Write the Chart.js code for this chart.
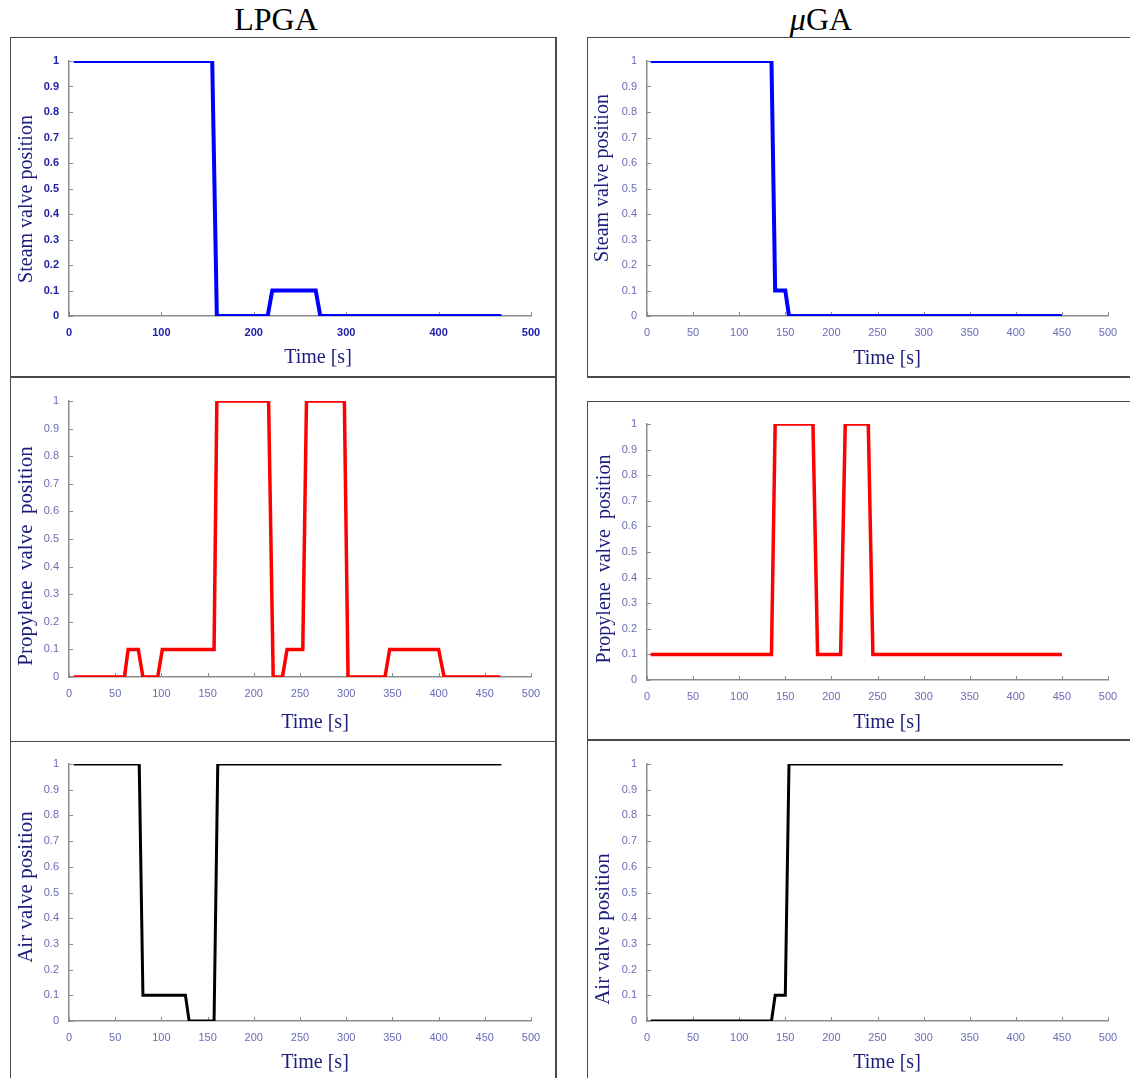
<!DOCTYPE html>
<html>
<head>
<meta charset="utf-8">
<title>Valve positions: LPGA vs uGA</title>
<script src="https://cdn.jsdelivr.net/npm/chart.js@4.4.1/dist/chart.umd.min.js"></script>
<style>
  html, body { margin: 0; padding: 0; background: #fff; }
  body { width: 1130px; height: 1078px; position: relative; overflow: hidden; }
  .line { position: absolute; background: #4a4a4a; }
  .head { position: absolute; top: 3px; width: 300px; text-align: center;
          font-family: "Liberation Serif", "DejaVu Serif", serif; font-size: 32px; line-height: 32px; color: #000; }
  canvas { position: absolute; }
</style>
</head>
<body>

<div class="head" style="left:126px">LPGA</div>
<div class="head" style="left:671px"><i>μ</i>GA</div>

<!-- panel frames -->
<div class="line" style="left:10px;top:37px;width:1px;height:1041px"></div>
<div class="line" style="left:555px;top:37px;width:2px;height:1041px"></div>
<div class="line" style="left:10px;top:37px;width:546px;height:1px"></div>
<div class="line" style="left:10px;top:376px;width:546px;height:2px"></div>
<div class="line" style="left:10px;top:741px;width:546px;height:1px"></div>

<div class="line" style="left:587px;top:37px;width:1px;height:340px"></div>
<div class="line" style="left:587px;top:401px;width:1px;height:677px"></div>
<div class="line" style="left:587px;top:37px;width:543px;height:1px"></div>
<div class="line" style="left:587px;top:376px;width:543px;height:2px"></div>
<div class="line" style="left:587px;top:401px;width:543px;height:1px"></div>
<div class="line" style="left:587px;top:739px;width:543px;height:2px"></div>

<canvas id="c0"></canvas>
<canvas id="c1"></canvas>
<canvas id="c2"></canvas>
<canvas id="c3"></canvas>
<canvas id="c4"></canvas>
<canvas id="c5"></canvas>

<script>
// --- data (time in s, valve position 0..1) ---
const lpgaSteamTime = [5, 155, 160, 215, 220, 267, 272, 468];
const lpgaSteamValue = [1, 1, 0, 0, 0.1, 0.1, 0, 0];

const lpgaPropyleneTime = [5, 60, 64, 75, 80, 96, 101, 157, 160, 216, 221, 231, 236, 253, 257, 298, 302, 342, 347, 400, 406, 467];
const lpgaPropyleneValue = [0, 0, 0.1, 0.1, 0, 0, 0.1, 0.1, 1, 1, 0, 0, 0.1, 0.1, 1, 1, 0, 0, 0.1, 0.1, 0, 0];

const lpgaAirTime = [5, 76, 80, 126, 130, 157, 161, 468];
const lpgaAirValue = [1, 1, 0.1, 0.1, 0, 0, 1, 1];

const ugaSteamTime = [4, 135, 139, 150, 154, 450];
const ugaSteamValue = [1, 1, 0.1, 0.1, 0, 0];

const ugaPropyleneTime = [4, 135, 139, 180, 185, 210, 215, 240, 245, 450];
const ugaPropyleneValue = [0.1, 0.1, 1, 1, 0.1, 0.1, 1, 1, 0.1, 0.1];

const ugaAirTime = [4, 135, 139, 150, 154, 451];
const ugaAirValue = [0, 0, 0.1, 0.1, 1, 1];

// tick labels
const xTicksCoarse = [0, 100, 200, 300, 400, 500];
const xTicksFine = [0, 50, 100, 150, 200, 250, 300, 350, 400, 450, 500];
const yTicks = [0, 0.1, 0.2, 0.3, 0.4, 0.5, 0.6, 0.7, 0.8, 0.9, 1];

const xTitle = 'Time [s]';

// layout of each panel: chart area [left, top, right, bottom] in page pixels
const panels = [
  { area: [69, 61, 531, 316], t: lpgaSteamTime, v: lpgaSteamValue, color: '#0000ff', lw: 4,
    xTicks: xTicksCoarse, yTitle: 'Steam valve position', yFont: 20, yPos: [27, 199], xPos: [318, 358], bold: true },
  { area: [647, 61, 1108, 316], t: ugaSteamTime, v: ugaSteamValue, color: '#0000ff', lw: 4,
    xTicks: xTicksFine, yTitle: 'Steam valve position', yFont: 20, yPos: [603, 178], xPos: [887, 359] },
  { area: [69, 401, 531, 677], t: lpgaPropyleneTime, v: lpgaPropyleneValue, color: '#ff0000', lw: 3.5,
    xTicks: xTicksFine, yTitle: 'Propylene  valve  position', yFont: 21, yPos: [26, 556], xPos: [315, 723] },
  { area: [647, 424, 1108, 680], t: ugaPropyleneTime, v: ugaPropyleneValue, color: '#ff0000', lw: 3.5,
    xTicks: xTicksFine, yTitle: 'Propylene  valve  position', yFont: 20, yPos: [605, 559], xPos: [887, 723] },
  { area: [69, 764, 531, 1021], t: lpgaAirTime, v: lpgaAirValue, color: '#000000', lw: 3,
    xTicks: xTicksFine, yTitle: 'Air valve position', yFont: 21, yPos: [26, 887], xPos: [315, 1063] },
  { area: [647, 764, 1108, 1021], t: ugaAirTime, v: ugaAirValue, color: '#000000', lw: 3,
    xTicks: xTicksFine, yTitle: 'Air valve position', yFont: 21, yPos: [603, 929], xPos: [887, 1063] },
];

const PAD_L = 65, PAD_T = 30, PAD_R = 35, PAD_B = 65;
const titleColor = '#1c1c7c';

// inside tick marks + axis titles
const decor = {
  id: 'decor',
  beforeDatasetsDraw(chart) {
    const { ctx, chartArea, scales } = chart;
    ctx.save();
    ctx.strokeStyle = '#8c8c8c';
    ctx.lineWidth = 1;
    scales.x.ticks.forEach(t => {
      const px = Math.round(scales.x.getPixelForValue(t.value)) + 0.5;
      ctx.beginPath();
      ctx.moveTo(px, chartArea.bottom);
      ctx.lineTo(px, chartArea.bottom - 4);
      ctx.stroke();
    });
    scales.y.ticks.forEach(t => {
      const py = Math.round(scales.y.getPixelForValue(t.value)) + 0.5;
      ctx.beginPath();
      ctx.moveTo(chartArea.left, py);
      ctx.lineTo(chartArea.left + 4, py);
      ctx.stroke();
    });
    ctx.restore();
  },
  afterDraw(chart, args, opts) {
    const { ctx } = chart;
    const p = opts.panel;
    const ox = p.area[0] - PAD_L, oy = p.area[1] - PAD_T;
    ctx.save();
    ctx.fillStyle = titleColor;
    ctx.textAlign = 'center';
    ctx.textBaseline = 'middle';
    ctx.font = '20px "Liberation Serif", "Times New Roman", serif';
    ctx.fillText(xTitle, p.xPos[0] - ox, p.xPos[1] - oy);
    ctx.translate(p.yPos[0] - ox, p.yPos[1] - oy);
    ctx.rotate(-Math.PI / 2);
    ctx.font = p.yFont + 'px "Liberation Serif", "Times New Roman", serif';
    ctx.fillText(p.yTitle, 0, 0);
    ctx.restore();
  }
};

panels.forEach((p, i) => {
  const [l, t, r, b] = p.area;
  const w = r - l + PAD_L + PAD_R;
  const h = b - t + PAD_T + PAD_B;
  const canvas = document.getElementById('c' + i);
  canvas.width = w;
  canvas.height = h;
  canvas.style.left = (l - PAD_L) + 'px';
  canvas.style.top = (t - PAD_T) + 'px';

  const tickFont = p.bold
    ? { family: '"Liberation Sans", Arial, sans-serif', size: 11, weight: 'bold' }
    : { family: '"Liberation Sans", Arial, sans-serif', size: 11 };
  const tickColor = p.bold ? '#2020a8' : '#6a6ab8';

  new Chart(canvas.getContext('2d'), {
    type: 'line',
    data: {
      datasets: [{
        data: p.t.map((x, k) => ({ x, y: p.v[k] })),
        borderColor: p.color,
        borderWidth: p.lw,
        borderJoinStyle: 'miter',
        pointRadius: 0,
        tension: 0,
        fill: false,
      }],
    },
    options: {
      responsive: false,
      animation: false,
      devicePixelRatio: 1,
      layout: { padding: { left: 0, top: PAD_T, right: PAD_R, bottom: 0 } },
      plugins: {
        legend: { display: false },
        tooltip: { enabled: false },
        decor: { panel: p },
      },
      scales: {
        x: {
          type: 'linear',
          min: 0,
          max: 500,
          grid: { display: false, drawTicks: false },
          border: { display: true, color: '#8c8c8c', width: 1.5 },
          ticks: { font: tickFont, color: tickColor, padding: 10, maxRotation: 0, autoSkip: false,
                   callback: v => String(v) },
          afterBuildTicks: s => { s.ticks = p.xTicks.map(v => ({ value: v })); },
          afterFit: s => { s.height = PAD_B; },
        },
        y: {
          type: 'linear',
          min: 0,
          max: 1,
          grid: { display: false, drawTicks: false },
          border: { display: true, color: '#8c8c8c', width: 1.5 },
          ticks: { font: tickFont, color: tickColor, padding: 10, autoSkip: false,
                   callback: v => String(v) },
          afterBuildTicks: s => { s.ticks = yTicks.map(v => ({ value: v })); },
          afterFit: s => { s.width = PAD_L; },
        },
      },
    },
    plugins: [decor],
  });
});
</script>
</body>
</html>
